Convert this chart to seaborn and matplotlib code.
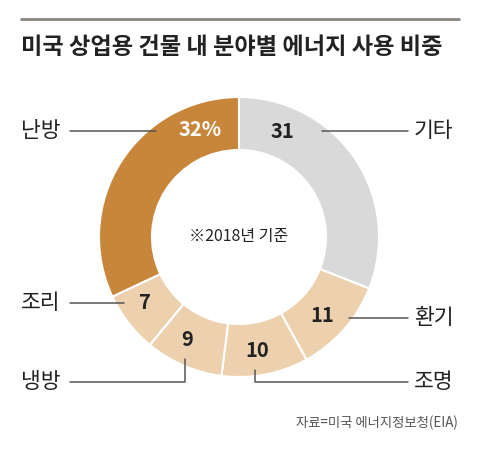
import numpy as np
import matplotlib
matplotlib.use("Agg")
import matplotlib.pyplot as plt
import seaborn as sns

# data (clockwise from 12 o'clock)
categories = ["기타", "환기", "조명", "냉방", "조리", "난방"]
shares = [31, 11, 10, 9, 7, 32]
value_labels = ["31", "11", "10", "9", "7", "32%"]

sns.set_theme(style="white")
plt.rcParams["font.family"] = ["Noto Sans CJK KR", "DejaVu Sans"]

colors = ["#d9d9d9", "#edd1ae", "#edd1ae", "#edd1ae", "#edd1ae", "#c8863a"]

W, H = 480, 450
fig = plt.figure(figsize=(4.8, 4.5), dpi=100)
ax = fig.add_axes([0, 0, 1, 1])

cx, cy = 239, H - 237
R, r = 140, 87
wedges, _ = ax.pie(shares, colors=colors, startangle=90, counterclock=False,
                   center=(cx, cy), radius=R,
                   wedgeprops=dict(width=R - r, edgecolor="white", linewidth=1.5))
ax.set_xlim(0, W)
ax.set_ylim(0, H)
ax.set_aspect("equal")
ax.axis("off")

# label layout: angle of the number, side, label row (pixels from top), gap to leader
num_angle = [67.5, -43, -81, -117, -145, 110]
side = ["R", "R", "R", "L", "L", "L"]
row_y = [131, 318, 382, 382, 303, 131]
gap = [39, 26, 0, 0, 21, 44]
rmid = (R + r) / 2 + 1

for i, cat in enumerate(categories):
    a = np.deg2rad(num_angle[i])
    nx, ny = cx + rmid * np.cos(a), cy + rmid * np.sin(a)
    txt_col = "white" if i == len(categories) - 1 else "#222222"
    ax.text(nx, ny, value_labels[i], ha="center", va="center", fontsize=14.5,
            fontweight="bold", color=txt_col)
    ly = H - row_y[i]
    if side[i] == "R":
        lx_end, tx = 408, 414
    else:
        lx_end, tx = 70, 21
    if abs(ly - ny) < 4:
        sx = nx + gap[i] if side[i] == "R" else nx - gap[i]
        ax.plot([sx, lx_end], [ly, ly], color="#555555", lw=1.1)
    else:
        vx = nx - 2
        ax.plot([vx, vx, lx_end], [ny - 20, ly, ly], color="#555555", lw=1.1)
    ax.text(tx, ly, cat, ha="left", va="center", fontsize=15.5, color="#222222")

ax.text(cx, cy, "※2018년 기준", ha="center", va="center", fontsize=11.5, color="#222222")

# header
ax.plot([20, 460], [H - 19, H - 19], color="#8c8680", lw=2, solid_capstyle="butt")
ax.text(21, H - 47, "미국 상업용 건물 내 분야별 에너지 사용 비중", ha="left", va="center",
        fontsize=16.7, fontweight="bold", color="#222222")
ax.text(458, H - 423, "자료=미국 에너지정보청(EIA)", ha="right", va="center",
        fontsize=9.6, color="#555555")

fig.savefig("out.png", dpi=100)
